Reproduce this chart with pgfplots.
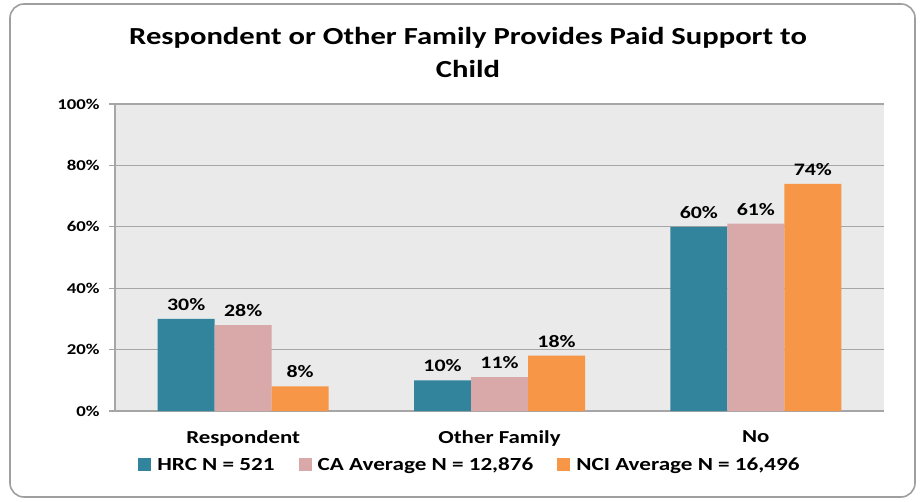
\documentclass[border=0pt]{standalone}
\usepackage{fontspec}
\setmainfont{Carlito}[FakeStretch=1.25]
\usepackage{pgfplots}
\pgfplotsset{compat=1.18}
\definecolor{cA}{HTML}{31849B}
\definecolor{cB}{HTML}{D9A9A9}
\definecolor{cC}{HTML}{F79646}
\definecolor{bgc}{HTML}{EAEAEA}
\definecolor{gridc}{HTML}{A6A6A6}
\begin{document}
\begin{tikzpicture}[x=1pt,y=1pt]
\useasboundingbox (0,0) rectangle (921,501);
\draw[rounded corners=14pt, gray!75, line width=1.6pt] (10,4) rectangle (915,497);
\node[align=center, font=\fontsize{24.5}{33}\selectfont\bfseries] at (468,449) {Respondent or Other Family Provides Paid Support to\\Child};
\begin{axis}[
  at={(115pt,90pt)}, anchor=south west,
  scale only axis, width=769pt, height=307pt,
  xmin=-0.5, xmax=2.5, ymin=0, ymax=100,
  ybar=0pt, bar width=57pt,
  axis background/.style={fill=bgc},
  axis x line*=bottom, axis y line*=left,
  axis line style={gridc, line width=1.2pt},
  ymajorgrids, grid style={gridc, line width=1.2pt},
  ytick={0,20,40,60,80,100},
  yticklabel={\pgfmathprintnumber{\tick}\%},
  yticklabel style={font=\fontsize{15}{17}\selectfont\bfseries, xshift=-6pt},
  xtick={0,1,2},
  xticklabels={Respondent, Other Family, No},
  xticklabel style={font=\fontsize{18.3}{20}\selectfont\bfseries, yshift=-10pt},
  x tick style={draw=none},
  extra x ticks={-0.5,0.5,1.5,2.5},
  extra x tick labels={},
  extra x tick style={tick style={draw=gridc, line width=1.2pt}, major tick length=6pt, tick align=outside, grid=none},
  y tick style={draw=gridc, line width=1.2pt},
  major tick length=6pt, tick align=outside,
  /pgf/number format/assume math mode=true,
  nodes near coords={\pgfmathprintnumber{\pgfplotspointmeta}\%},
  every node near coord/.append style={font=\fontsize{17.5}{19}\selectfont\bfseries, black, yshift=5pt},
  legend image code/.code={\fill[#1] (0pt,-6pt) rectangle (13pt,7pt);},
  legend style={at={(0.4616,-0.176)}, anchor=center, draw=none, fill=none,
    legend columns=3, font=\fontsize{18.5}{20}\selectfont\bfseries,
    /tikz/every odd column/.append style={column sep=4pt},
    /tikz/every even column/.append style={column sep=22pt}},
]
\addplot[fill=cA, draw=none] coordinates {(0,30) (1,10) (2,60)};
\addplot[fill=cB, draw=none] coordinates {(0,28) (1,11) (2,61)};
\addplot[fill=cC, draw=none] coordinates {(0,8) (1,18) (2,74)};
\legend{HRC N = 521, CA Average N = 12{,}876, NCI Average N = 16{,}496}
\end{axis}
\end{tikzpicture}
\end{document}
